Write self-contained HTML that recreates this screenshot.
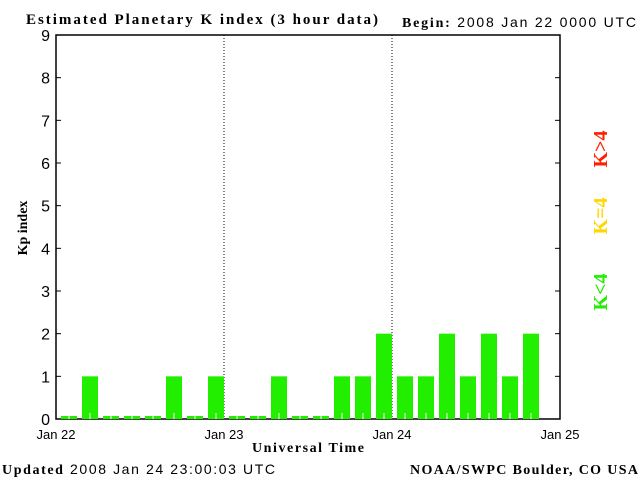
<!DOCTYPE html>
<html><head><meta charset="utf-8"><style>
body{margin:0;background:#fff}
svg text{font-family:"Liberation Sans",sans-serif}
.serif{font-family:"Liberation Serif",serif;font-weight:bold}
</style></head><body>
<svg id="chart" width="640" height="480">
<text class="serif" x="26" y="24" font-size="15" textLength="352" lengthAdjust="spacing">Estimated Planetary K index (3 hour data)</text>
<text x="402" y="27" font-size="14" textLength="234" lengthAdjust="spacing"><tspan class="serif">Begin:</tspan>  2008 Jan 22 0000 UTC</text>
<rect x="56" y="35" width="504" height="384" fill="none" stroke="#000" stroke-width="1.5"/>
<g id="grid"></g><g id="bars"></g><g id="yaxis"></g><g id="xaxis"></g>
<text class="serif" x="0" y="0" font-size="14" transform="translate(27,228) rotate(-90)" text-anchor="middle">Kp index</text>
<text class="serif" x="308" y="452" font-size="14" text-anchor="middle" textLength="112" lengthAdjust="spacing">Universal Time</text>
<text x="2" y="474" font-size="14" textLength="273" lengthAdjust="spacing"><tspan class="serif">Updated</tspan> 2008 Jan 24 23:00:03 UTC</text>
<text class="serif" x="410" y="474" font-size="14" textLength="228" lengthAdjust="spacing">NOAA/SWPC Boulder, CO USA</text>
<text class="serif" font-size="20" fill="#ff2000" text-anchor="middle" transform="translate(607,149) rotate(-90)">K&gt;4</text>
<text class="serif" font-size="20" fill="#ffd700" text-anchor="middle" transform="translate(607,216) rotate(-90)">K=4</text>
<text class="serif" font-size="20" fill="#22ee00" text-anchor="middle" transform="translate(607,292) rotate(-90)">K&lt;4</text>
</svg>
<script>
const kpValues=[0,1,0,0,0,1,0,1, 0,0,1,0,0,1,1,2, 1,1,2,1,2,1,2];
const dayLabels=["Jan 22","Jan 23","Jan 24","Jan 25"];
const yTicks=[0,1,2,3,4,5,6,7,8,9];
const NS="http://www.w3.org/2000/svg";
const x0=56,x1=560,yb=419,yt=35;
const slot=(x1-x0)/24;
function xs(i){return x0+i*slot;}
function ys(v){return yb-v*(yb-yt)/9;}
function mk(t,a,p){const e=document.createElementNS(NS,t);for(const k in a)e.setAttribute(k,a[k]);p.appendChild(e);return e;}
const bars=document.getElementById('bars');
kpValues.forEach((v,i)=>{
  const top=v===0?yb-3:ys(v);
  const col=v>4?'#ff2000':(v===4?'#ffd700':'#22ee00');
  const r=mk('rect',{x:xs(i)+5,y:top,width:slot-5,height:yb-top,fill:col},bars);
  
  
  const w=mk('line',{x1:xs(i)+13,x2:xs(i)+13,y1:yb,y2:Math.max(top,yb-6),stroke:'#fff','stroke-width':1},bars);
  
  
});
const ya=document.getElementById('yaxis');
yTicks.forEach(t=>{
  mk('line',{x1:x0,x2:x0+5,y1:ys(t),y2:ys(t),stroke:'#000'},ya);
  mk('line',{x1:x1,x2:x1-5,y1:ys(t),y2:ys(t),stroke:'#000'},ya);
  const tx=mk('text',{x:50,y:ys(t)+6,'font-size':16,'text-anchor':'end'},ya);
  tx.textContent=t;
  
  
});
const xa=document.getElementById('xaxis'),g=document.getElementById('grid');
dayLabels.forEach((d,i)=>{
  const x=xs(i*8);
  const tx=mk('text',{x:x,y:439,'font-size':13,'text-anchor':'middle'},xa);
  tx.textContent=d;
  
  
  if(i>0&&i<dayLabels.length-1){
    const l=mk('line',{x1:x,x2:x,y1:yt,y2:yb,stroke:'#000','stroke-dasharray':'1,2'},g);
    
    
  }
});
</script>
</body></html>
